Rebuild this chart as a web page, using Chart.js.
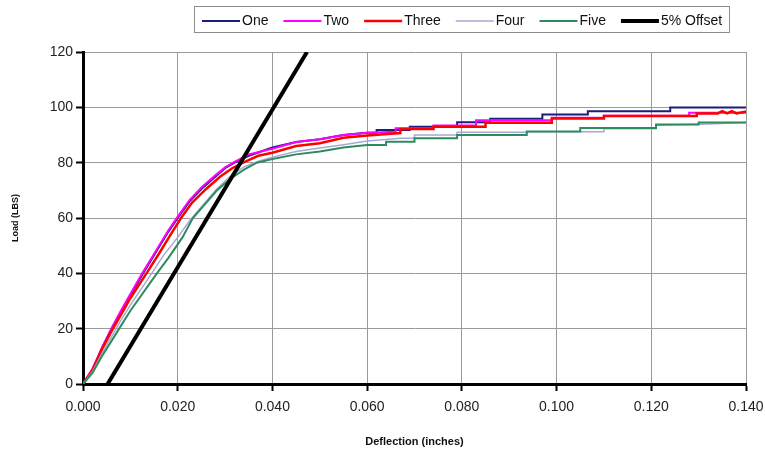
<!DOCTYPE html>
<html>
<head>
<meta charset="utf-8">
<script src="https://cdn.jsdelivr.net/npm/chart.js@4.4.1/dist/chart.umd.min.js"></script>
<style>
  body { margin: 0; background: #fff; }
  #wrap { width: 765px; height: 453px; }
</style>
</head>
<body>
<div id="wrap"><canvas id="grafico" width="765" height="453"></canvas></div>
<script>
// valores (deflexão em polegadas, carga em lbs)
var xTicks = [0, 0.02, 0.04, 0.06, 0.08, 0.10, 0.12, 0.14];
var yTicks = [0, 20, 40, 60, 80, 100, 120];

var seriesNames = ['One', 'Two', 'Three', 'Four', 'Five', '5% Offset'];

var oneDefl = [0, 0.002, 0.004, 0.006, 0.008, 0.010, 0.0127, 0.015, 0.018, 0.020, 0.0225, 0.025, 0.028, 0.030, 0.032, 0.035, 0.040, 0.045, 0.050, 0.055, 0.060, 0.062, 0.062, 0.069, 0.069, 0.079, 0.079, 0.086, 0.086, 0.097, 0.097, 0.1066, 0.1066, 0.124, 0.124, 0.140];
var oneLoad = [0, 5, 13, 20, 26, 32, 40, 46.5, 55, 60, 66, 70.5, 75, 78, 80, 82.5, 85.5, 87.5, 88.5, 90, 90.8, 90.8, 91.8, 91.8, 93, 93, 94.6, 94.6, 95.9, 95.9, 97.4, 97.4, 98.6, 98.6, 99.9, 99.9];

var twoDefl = [0, 0.002, 0.004, 0.006, 0.008, 0.010, 0.0125, 0.015, 0.018, 0.020, 0.0225, 0.025, 0.028, 0.030, 0.032, 0.035, 0.040, 0.045, 0.050, 0.055, 0.060, 0.066, 0.066, 0.074, 0.074, 0.083, 0.083, 0.099, 0.099, 0.110, 0.110, 0.128, 0.128, 0.140];
var twoLoad = [0, 5.5, 13, 20, 26.5, 32.5, 40, 47, 55.5, 60.5, 66.5, 71, 75.5, 78.3, 80.3, 83, 85, 87.5, 88.5, 90, 90.8, 91.2, 92.4, 92.4, 93.4, 93.4, 95.3, 95.3, 96.2, 96.2, 97, 97, 98, 98];

var threeDefl = [0, 0.002, 0.004, 0.006, 0.008, 0.010, 0.0134, 0.016, 0.0185, 0.0207, 0.023, 0.026, 0.029, 0.0315, 0.0338, 0.037, 0.040, 0.045, 0.050, 0.055, 0.060, 0.067, 0.067, 0.074, 0.074, 0.085, 0.085, 0.099, 0.099, 0.110, 0.110, 0.1296, 0.1296, 0.134, 0.135, 0.136, 0.137, 0.138, 0.140];
var threeLoad = [0, 5, 12.5, 19, 25, 31, 40, 47, 54, 60, 65.5, 70.5, 75, 78, 80, 82.5, 83.6, 86, 87, 89, 89.8, 90.7, 92.2, 92.2, 93, 93, 94.4, 94.4, 96, 96, 96.9, 96.9, 97.8, 97.8, 98.6, 97.8, 98.6, 97.8, 98.5];

var fourDefl = [0, 0.002, 0.004, 0.006, 0.008, 0.010, 0.0145, 0.017, 0.020, 0.0225, 0.025, 0.028, 0.031, 0.034, 0.037, 0.040, 0.045, 0.050, 0.055, 0.060, 0.067, 0.070, 0.070, 0.079, 0.079, 0.094, 0.094, 0.110, 0.110, 0.121, 0.121, 0.132, 0.140];
var fourLoad = [0, 4.5, 11, 17, 23, 28.5, 40, 46.5, 53, 59, 64, 70, 75, 78.5, 80.5, 82, 84, 85.3, 86.5, 87.8, 88.8, 88.8, 90, 90, 91, 91, 91.2, 91.2, 92.3, 92.3, 93.5, 94, 94.5];

var fiveDefl = [0, 0.002, 0.004, 0.006, 0.008, 0.010, 0.0156, 0.018, 0.021, 0.0232, 0.026, 0.0283, 0.031, 0.034, 0.0367, 0.040, 0.045, 0.050, 0.055, 0.060, 0.064, 0.064, 0.070, 0.070, 0.079, 0.079, 0.0937, 0.0937, 0.105, 0.105, 0.121, 0.121, 0.130, 0.130, 0.140];
var fiveLoad = [0, 4, 10, 15.5, 21, 26.5, 40, 45.5, 53, 60, 65.5, 70, 74, 77.5, 80, 81.3, 83, 84, 85.5, 86.4, 86.4, 87.6, 87.6, 88.8, 88.8, 90, 90, 91.3, 91.3, 92.5, 92.5, 93.8, 93.8, 94.5, 94.5];

var offsetDefl = [0.0052, 0.0473];
var offsetLoad = [0, 120];

function juntarPontos(defl, load) {
    var pontos = [];
    for (var i = 0; i < defl.length; i++) {
        pontos.push({ x: defl[i], y: load[i] });
    }
    return pontos;
}

var estilos = [
    { cor: '#1c1c7c', largura: 2 },
    { cor: '#ff00ff', largura: 2 },
    { cor: '#ff0000', largura: 2.5 },
    { cor: '#a8a8d4', largura: 1.5 },
    { cor: '#2e8b5e', largura: 2 },
    { cor: '#000000', largura: 4 }
];

var dadosSeries = [
    juntarPontos(oneDefl, oneLoad),
    juntarPontos(twoDefl, twoLoad),
    juntarPontos(threeDefl, threeLoad),
    juntarPontos(fourDefl, fourLoad),
    juntarPontos(fiveDefl, fiveLoad),
    juntarPontos(offsetDefl, offsetLoad)
];

var datasets = [];
for (var i = 0; i < seriesNames.length; i++) {
    datasets.push({
        label: seriesNames[i],
        data: dadosSeries[i],
        borderColor: estilos[i].cor,
        backgroundColor: estilos[i].cor,
        borderWidth: estilos[i].largura,
        pointRadius: 0,
        tension: 0,
        fill: false,
        order: seriesNames.length - i // excel desenha a última série por cima
    });
}

// legenda com moldura, igual à do excel
var legendaExcel = {
    id: 'legendaExcel',
    afterDraw: function (chart) {
        var ctx = chart.ctx;
        ctx.save();
        ctx.strokeStyle = '#8c8c8c';
        ctx.lineWidth = 1;
        ctx.strokeRect(194.5, 6.5, 535, 26);
        ctx.font = '14px "Liberation Sans", Arial, sans-serif';
        ctx.textBaseline = 'middle';
        ctx.fillStyle = '#111';
        var x = 202;
        var y = 21;
        chart.data.datasets.forEach(function (ds) {
            ctx.beginPath();
            ctx.strokeStyle = ds.borderColor;
            ctx.lineWidth = ds.borderWidth;
            ctx.moveTo(x, y);
            ctx.lineTo(x + 38, y);
            ctx.stroke();
            x += 40;
            ctx.fillText(ds.label, x, y);
            x += ctx.measureText(ds.label).width + 15;
        });
        ctx.restore();
    }
};

var ctx = document.getElementById('grafico').getContext('2d');
new Chart(ctx, {
    type: 'line',
    data: { datasets: datasets },
    options: {
        responsive: false,
        animation: false,
        devicePixelRatio: 1,
        layout: { padding: { top: 52, right: 19, left: 0, bottom: 0 } },
        plugins: {
            legend: { display: false },
            tooltip: { enabled: false }
        },
        scales: {
            x: {
                type: 'linear',
                min: 0,
                max: 0.14,
                afterBuildTicks: function (scale) {
                    scale.ticks = xTicks.map(function (v) { return { value: v }; });
                },
                afterFit: function (scale) {
                    scale.height = 69;
                    scale.paddingLeft = 0;
                    scale.paddingRight = 0;
                },
                ticks: {
                    color: '#222',
                    font: { family: '"Liberation Sans", Arial, sans-serif', size: 14 },
                    padding: 8,
                    maxRotation: 0,
                    callback: function (v) { return v.toFixed(3); }
                },
                grid: { color: '#9a9a9a', lineWidth: 1, tickColor: '#000', tickLength: 7, tickWidth: 2 },
                border: { color: '#000', width: 3 },
                title: {
                    display: true,
                    text: 'Deflection (inches)',
                    color: '#111',
                    font: { family: '"Liberation Sans", Arial, sans-serif', size: 11, weight: 'bold' },
                    padding: { top: 0, bottom: 4 }
                }
            },
            y: {
                type: 'linear',
                min: 0,
                max: 120,
                afterBuildTicks: function (scale) {
                    scale.ticks = yTicks.map(function (v) { return { value: v }; });
                },
                afterFit: function (scale) { scale.width = 83; },
                ticks: {
                    color: '#222',
                    font: { family: '"Liberation Sans", Arial, sans-serif', size: 14 },
                    padding: 3
                },
                grid: { color: '#9a9a9a', lineWidth: 1, tickColor: '#000', tickLength: 7, tickWidth: 2 },
                border: { color: '#000', width: 3 },
                title: {
                    display: true,
                    text: 'Load (LBS)',
                    color: '#111',
                    font: { family: '"Liberation Sans", Arial, sans-serif', size: 9, weight: 'bold' },
                    padding: { top: 10, bottom: 0 }
                }
            }
        }
    },
    plugins: [legendaExcel]
});
</script>
</body>
</html>
